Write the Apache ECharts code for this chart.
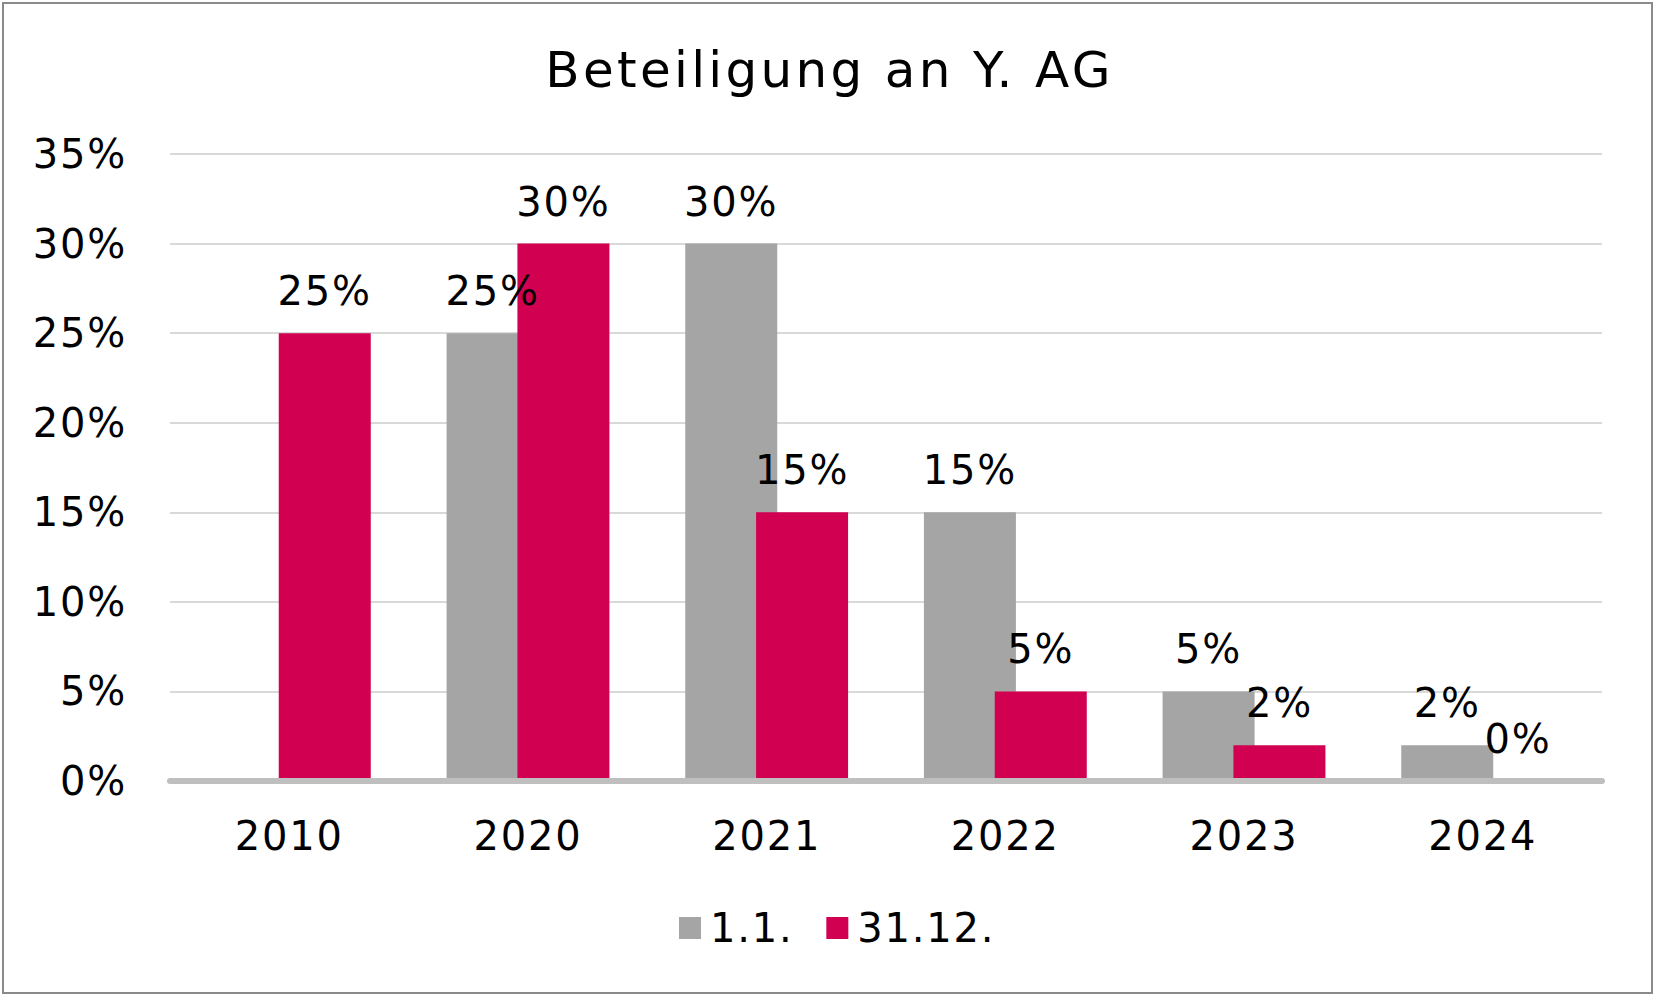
<!DOCTYPE html>
<html>
<head>
<meta charset="utf-8">
<script src="https://cdn.jsdelivr.net/npm/echarts@6/dist/echarts.min.js"></script>
<style>
  html, body { margin: 0; padding: 0; background: #fff; }
  #chart { position: absolute; left: 0; top: 0; width: 1659px; height: 999px; }
  #frame { position: absolute; left: 2px; top: 2px; width: 1651px; height: 992px; box-sizing: border-box; border: 2px solid #8a8a8a; pointer-events: none; }
</style>
</head>
<body>
<div id="chart"></div>
<div id="frame"></div>
<script>
const titleText = 'Beteiligung an Y. AG';
const categories = ['2010', '2020', '2021', '2022', '2023', '2024'];
const seriesNames = ['1.1.', '31.12.'];
const valuesStart = [null, 25, 30, 15, 5, 2];
const valuesEnd = [25, 30, 15, 5, 2, 0];
const yTicks = [0, 5, 10, 15, 20, 25, 30, 35];

const FONT = 'DejaVu Sans';
const GRAY = '#a5a5a5';
const RED = '#d10050';

const chart = echarts.init(document.getElementById('chart'), null, { renderer: 'svg' });

const labelCfg = {
  show: true,
  position: 'top',
  distance: 22,
  formatter: p => (p.value === null || p.value === undefined) ? '' : p.value + '%',
  fontFamily: FONT,
  fontSize: 40,
  color: '#000'
};

chart.setOption({
  animation: false,
  backgroundColor: '#fff',
  title: {
    text: titleText,
    left: 'center',
    top: 40,
    textStyle: { fontFamily: FONT, fontSize: 50, fontWeight: 'normal', color: '#000' }
  },
  legend: {
    data: seriesNames,
    left: 674,
    top: 903,
    itemWidth: 22,
    itemHeight: 22,
    itemGap: 40,
    icon: 'rect',
    textStyle: { fontFamily: FONT, fontSize: 40, color: '#000', padding: [0, 0, 0, 4] }
  },
  grid: { left: 170, right: 57, top: 154, bottom: 218, containLabel: false },
  xAxis: {
    type: 'category',
    data: categories,
    z: 5,
    axisTick: { show: false },
    axisLine: { show: true, lineStyle: { color: '#bfbfbf', width: 6 } },
    axisLabel: { fontFamily: FONT, fontSize: 40, color: '#000', margin: 35 }
  },
  yAxis: {
    type: 'value',
    min: yTicks[0],
    max: yTicks[yTicks.length - 1],
    interval: yTicks[1] - yTicks[0],
    axisLine: { show: false },
    axisTick: { show: false },
    splitLine: { lineStyle: { color: '#d9d9d9', width: 2 } },
    axisLabel: { fontFamily: FONT, fontSize: 40, color: '#000', margin: 43, formatter: '{value}%' }
  },
  series: [
    {
      name: seriesNames[0],
      type: 'bar',
      data: valuesStart,
      barWidth: 92,
      barGap: '-23%',
      itemStyle: { color: GRAY },
      label: labelCfg
    },
    {
      name: seriesNames[1],
      type: 'bar',
      data: valuesEnd,
      barWidth: 92,
      barGap: '-23%',
      itemStyle: { color: RED },
      label: labelCfg
    }
  ]
});

// Verdana-like spacing: widen glyph tracking on the rendered SVG text
function applySpacing() {
  document.querySelectorAll('#chart svg text').forEach(t => {
    const fs = parseFloat(getComputedStyle(t).fontSize);
    t.style.letterSpacing = (fs >= 48 ? 3.3 : 1.8) + 'px';
  });
}
applySpacing();
chart.on('finished', applySpacing);
setTimeout(applySpacing, 0);
requestAnimationFrame(applySpacing);
</script>
</body>
</html>
